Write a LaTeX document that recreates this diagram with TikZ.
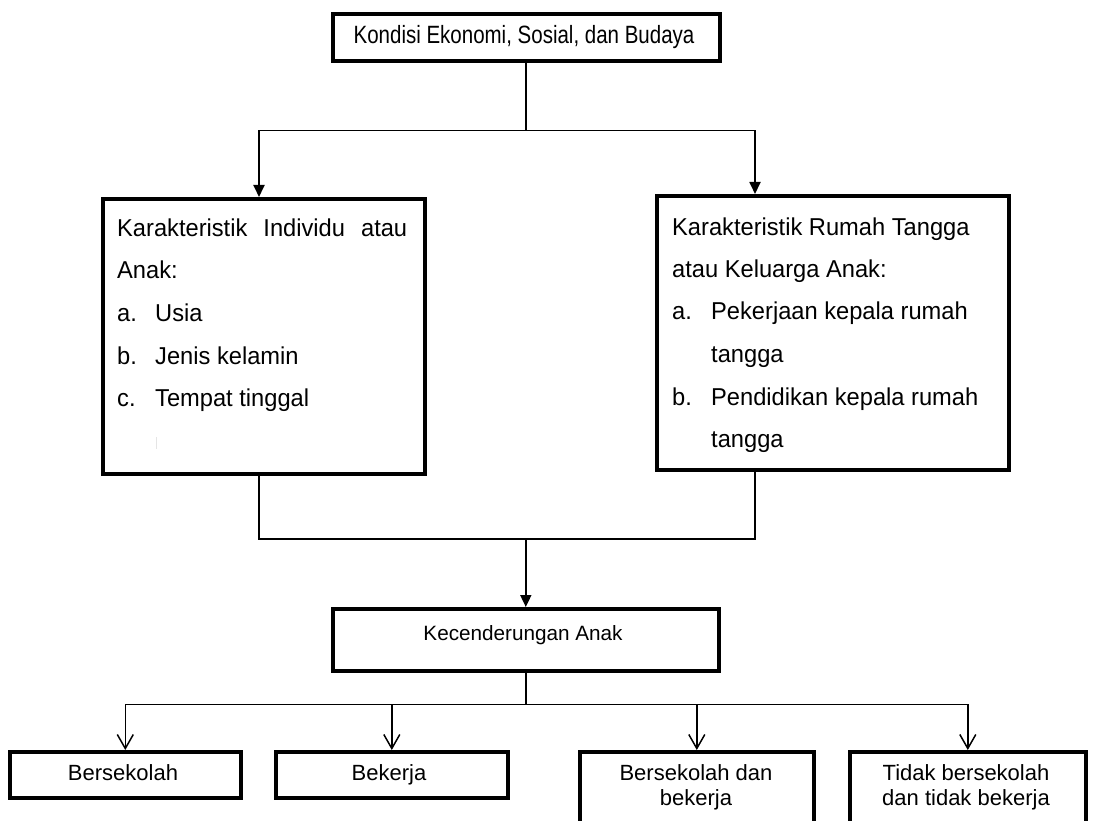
\documentclass[tikz,border=0pt]{standalone}
\usepackage{fontspec}
\setmainfont{Liberation Sans}
\newfontfamily\narrowfont[FakeStretch=0.82]{Liberation Sans}
\newfontfamily\tallfont[FakeStretch=0.97]{Liberation Sans}
\usetikzlibrary{arrows.meta,calc}
\begin{document}
\begin{tikzpicture}[x=1pt,y=-1pt,
 box/.style={draw, line width=3.6pt, inner sep=0pt, anchor=north west},
 lbl/.style={inner sep=0pt, anchor=base, font=\fontsize{20.7}{24}\selectfont},
 toplbl/.style={inner sep=0pt, anchor=base, font=\narrowfont\fontsize{25}{28}\selectfont},
 blbl/.style={inner sep=0pt, anchor=base, font=\fontsize{22}{25}\selectfont},
 tall/.style={inner sep=0pt, anchor=base west, font=\tallfont\fontsize{24.4}{42.5}\selectfont},
 conn/.style={line width=1.8pt},
 arrf/.style={conn, -{Triangle[width=11pt,length=12pt]}},
 arro/.style={line width=1.5pt, -{Straight Barb[width=16pt,length=14pt]}},
]
\useasboundingbox (0,0) rectangle (1108,821);
\fill[white] (0,0) rectangle (1108,821);

% boxes
\node[box, minimum width=387pt, minimum height=47pt] (T) at (331,12) {};
\node[toplbl] (Tt) at (524,44) {Kondisi Ekonomi, Sosial, dan Budaya};

\node[box, minimum width=322pt, minimum height=275pt] (L) at (101,197) {};
\node[tall] (Lt) at (117,236.5) {\begin{minipage}[t]{290pt}%
\makebox[290pt][s]{Karakteristik Individu atau}\\
Anak:\\
\makebox[38pt][l]{a.}Usia\\
\makebox[38pt][l]{b.}Jenis kelamin\\
\makebox[38pt][l]{c.}Tempat tinggal\end{minipage}};
\draw[gray!20, line width=1pt] (156,437) -- (156,449);

\node[box, minimum width=352pt, minimum height=274pt] (R) at (655,194) {};
\node[tall] (Rt) at (672,235) {\begin{minipage}[t]{325pt}%
Karakteristik Rumah Tangga\\
atau Keluarga Anak:\\
\makebox[39pt][l]{a.}Pekerjaan kepala rumah\\
\hspace*{39pt}tangga\\
\makebox[39pt][l]{b.}Pendidikan kepala rumah\\
\hspace*{39pt}tangga\end{minipage}};

\node[box, minimum width=386pt, minimum height=62pt] (K) at (331,607) {};
\node[lbl] (Kt) at (523,640) {Kecenderungan Anak};

\node[box, minimum width=231pt, minimum height=46pt] (B1) at (8,750) {};
\node[blbl] (B1t) at (123,780.7) {Bersekolah};
\node[box, minimum width=232pt, minimum height=46pt] (B2) at (274,750) {};
\node[blbl] (B2t) at (389,780.7) {Bekerja};
\node[box, minimum width=234pt, minimum height=100pt] (B3) at (578,750) {};
\node[blbl] (B3t) at (696,780) {\begin{minipage}[t]{220pt}\centering Bersekolah dan\\ bekerja\end{minipage}};
\node[box, minimum width=236pt, minimum height=100pt] (B4) at (848,750) {};
\node[blbl] (B4t) at (966,780.7) {\begin{minipage}[t]{230pt}\centering Tidak bersekolah\\ dan tidak bekerja\end{minipage}};

% connectors
\coordinate (xl) at (259,0);
\coordinate (xr) at (755,0);
\draw[conn] (T.south) -- ++(0,68) coordinate (j1);
\draw[arrf] (j1) -| (L.north -| xl);
\draw[arrf] (j1) -| (R.north -| xr);
\coordinate (j2) at (K.north |- 0,539);
\draw[conn] (L.south -| xl) |- (j2);
\draw[conn] (R.south -| xr) |- (j2);
\draw[arrf] (j2) -- (K.north);
\draw[line width=1.5pt] (K.south) -- ++(0,32) coordinate (j3);
\draw[arro] (j3) -| (B1.north);
\draw[arro] (j3) -| (B2.north);
\draw[arro] (j3) -| (B3.north);
\draw[arro] (j3) -| (B4.north);
\end{tikzpicture}
\end{document}
